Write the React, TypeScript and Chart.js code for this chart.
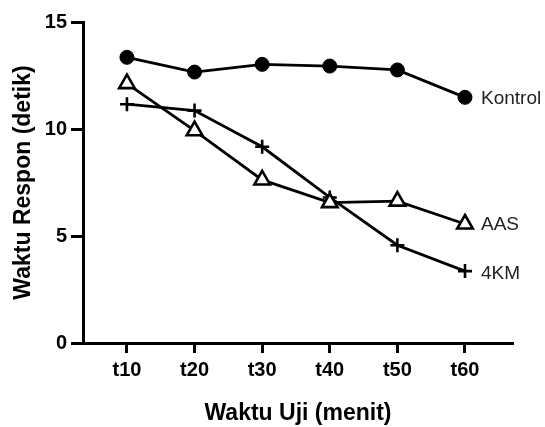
import React, { useEffect, useRef } from "react";
import { Chart, registerables } from "chart.js";

Chart.register(...registerables);

const categories = ["t10", "t20", "t30", "t40", "t50", "t60"];
const kontrol = [13.35, 12.66, 13.02, 12.94, 12.76, 11.48];
const aas = [12.12, 9.92, 7.62, 6.56, 6.63, 5.56];
const km4 = [11.16, 10.86, 9.17, 6.8, 4.57, 3.36];
const seriesNames = ["Kontrol", "AAS", "4KM"];
const yTicks = [0, 5, 10, 15];

const FONT = "'Liberation Sans', Arial, Helvetica, sans-serif";

const endLabels = {
  id: "endLabels",
  afterDatasetsDraw(chart: any) {
    const ctx = chart.ctx;
    ctx.save();
    ctx.font = `19px ${FONT}`;
    ctx.fillStyle = "#222";
    ctx.textBaseline = "middle";
    ctx.textAlign = "left";
    chart.data.datasets.forEach((ds: any, i: number) => {
      const meta = chart.getDatasetMeta(i);
      const pt = meta.data[meta.data.length - 1];
      if (!pt) return;
      ctx.fillText(ds.label, pt.x + 16, pt.y + (i === 2 ? 3 : 1));
    });
    ctx.restore();
  },
};

export default function App() {
  const ref = useRef<HTMLCanvasElement>(null);
  useEffect(() => {
    document.body.style.margin = "0";
    const toPts = (arr: number[]) => arr.map((v, i) => ({ x: i, y: v }));
    const chart = new Chart(ref.current!, {
      type: "line",
      data: {
        datasets: [
          {
            label: seriesNames[0],
            data: toPts(kontrol),
            borderColor: "#000",
            borderWidth: 2.8,
            pointStyle: "circle",
            pointRadius: 7,
            pointBackgroundColor: "#000",
            pointBorderColor: "#000",
            pointBorderWidth: 1,
          },
          {
            label: seriesNames[1],
            data: toPts(aas),
            borderColor: "#000",
            borderWidth: 2.8,
            pointStyle: "triangle",
            pointRadius: 9,
            pointBackgroundColor: "#fff",
            pointBorderColor: "#000",
            pointBorderWidth: 2.6,
          },
          {
            label: seriesNames[2],
            data: toPts(km4),
            borderColor: "#000",
            borderWidth: 2.8,
            pointStyle: "cross",
            pointRadius: 7,
            pointBorderColor: "#000",
            pointBorderWidth: 2.6,
          },
        ],
      },
      options: {
        animation: false,
        responsive: false,
        maintainAspectRatio: false,
        layout: { padding: { top: 22, right: 32, left: 0, bottom: 0 } },
        plugins: {
          legend: { display: false },
          tooltip: { enabled: false },
        },
        elements: { line: { tension: 0 } },
        scales: {
          x: {
            type: "linear",
            min: -0.65,
            max: 5.71,
            afterBuildTicks: (s: any) => {
              s.ticks = categories.map((_, i) => ({ value: i }));
            },
            afterFit: (s: any) => {
              s.height = 84;
            },
            ticks: {
              callback: (v: any) => categories[v as number] ?? "",
              color: "#000",
              font: { family: FONT, size: 20, weight: "bold" },
              padding: 5,
              maxRotation: 0,
            },
            grid: {
              drawOnChartArea: false,
              drawTicks: true,
              tickLength: 10,
              tickWidth: 3,
              tickColor: "#000",
            },
            border: { display: true, color: "#000", width: 3 },
            title: {
              display: true,
              text: "Waktu Uji (menit)",
              color: "#000",
              font: { family: FONT, size: 23, weight: "bold" },
              padding: { top: 0, bottom: 0 },
            },
          },
          y: {
            type: "linear",
            min: 0,
            max: 15,
            afterBuildTicks: (s: any) => {
              s.ticks = yTicks.map((v) => ({ value: v }));
            },
            afterFit: (s: any) => {
              s.width = 83;
            },
            ticks: {
              color: "#000",
              font: { family: FONT, size: 20, weight: "bold" },
              padding: 4,
            },
            grid: {
              drawOnChartArea: false,
              drawTicks: true,
              tickLength: 12,
              tickWidth: 3,
              tickColor: "#000",
            },
            border: { display: true, color: "#000", width: 3 },
            title: {
              display: true,
              text: "Waktu Respon (detik)",
              color: "#000",
              font: { family: FONT, size: 23, weight: "bold" },
              padding: { top: 10, bottom: 0 },
            },
          },
        },
      },
      plugins: [endLabels],
    } as any);
    return () => chart.destroy();
  }, []);
  return (
    <div style={{ width: 545, height: 427 }}>
      <canvas ref={ref} width={545} height={427} style={{ width: 545, height: 427 }} />
    </div>
  );
}
